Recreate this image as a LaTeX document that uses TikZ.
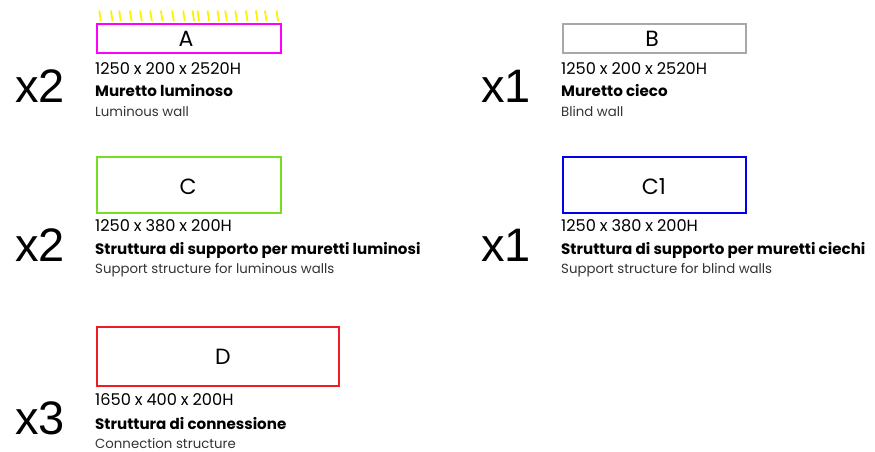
\documentclass[tikz,border=0pt]{standalone}
\usepackage{fontspec}
\setmainfont{Poppins}
\newfontfamily\multfont{Liberation Sans}
\newfontfamily\dimfont[WordSpace=0.9]{Poppins}
\definecolor{rayyellow}{HTML}{FFF200}
\definecolor{magbox}{HTML}{FF00FF}
\definecolor{graybox}{HTML}{A8A8A8}
\definecolor{greenbox}{HTML}{77DD22}
\definecolor{bluebox}{HTML}{0000EE}
\definecolor{redbox}{HTML}{EE1C24}
\definecolor{subgray}{HTML}{333333}
\tikzset{
  boxlabel/.style={font=\fontsize{22}{24}\selectfont},
  dimtext/.style={anchor=west, inner sep=0pt, font=\dimfont\fontsize{16.2}{18}\selectfont},
  nametext/.style={anchor=west, inner sep=0pt, font=\fontsize{15.1}{17}\selectfont\bfseries},
  entext/.style={anchor=west, inner sep=0pt, text=subgray, font=\fontsize{13.3}{15}\selectfont},
  multtext/.style={anchor=west, inner sep=0pt, font=\multfont\fontsize{47}{52}\selectfont},
  ray/.style={draw=rayyellow, line width=1.8pt}
}
\begin{document}
\begin{tikzpicture}[x=1pt,y=-1pt]
\useasboundingbox (0,0) rectangle (875,451);
% A
\draw[magbox, line width=1.4pt] (97,24) rectangle (281,53);
\node[boxlabel] (A) at (186,39) {A};
\foreach \rx in {100,111.7,120,130.7,141,151,161.7,173,184,193.3,198.3,208.3,218.3,226,236,246.7,256.7,265.7,277.3}{
  \draw[ray] (\rx-0.8,10.5) -- (\rx+0.8,21);
}
\node[dimtext] (Adim) at (95,69) {1250 x 200 x 2520H};
\node[nametext] (Aname) at (95,91) {Muretto luminoso};
\node[entext] (Aen) at (95,111) {Luminous wall};
\node[multtext] (Amult) at (15,86) {x2};
% B
\draw[graybox, line width=1.4pt] (563,24) rectangle (746,53);
\node[boxlabel] (B) at (652,39) {B};
\node[dimtext] (Bdim) at (561,69) {1250 x 200 x 2520H};
\node[nametext] (Bname) at (561,91) {Muretto cieco};
\node[entext] (Ben) at (561,111) {Blind wall};
\node[multtext] (Bmult) at (481,86) {x1};
% C
\draw[greenbox, line width=1.4pt] (97,157) rectangle (281,213);
\node[boxlabel] (C) at (188,187) {C};
\node[dimtext] (Cdim) at (95,226) {1250 x 380 x 200H};
\node[nametext] (Cname) at (95,250) {Struttura di supporto per muretti luminosi};
\node[entext] (Cen) at (95,270) {Support structure for luminous walls};
\node[multtext] (Cmult) at (15,245) {x2};
% C1
\draw[bluebox, line width=1.4pt] (563,157) rectangle (746,213);
\node[boxlabel] (C1) at (654,187) {C1};
\node[dimtext] (C1dim) at (561,226) {1250 x 380 x 200H};
\node[nametext] (C1name) at (561,250) {Struttura di supporto per muretti ciechi};
\node[entext] (C1en) at (561,270) {Support structure for blind walls};
\node[multtext] (C1mult) at (481,245) {x1};
% D
\draw[redbox, line width=1.4pt] (97,327) rectangle (339,386);
\node[boxlabel] (D) at (223,357) {D};
\node[dimtext] (Ddim) at (95,400) {1650 x 400 x 200H};
\node[nametext] (Dname) at (95,424) {Struttura di connessione};
\node[entext] (Den) at (95,443) {Connection structure};
\node[multtext] (Dmult) at (15,418) {x3};
\end{tikzpicture}
\end{document}
